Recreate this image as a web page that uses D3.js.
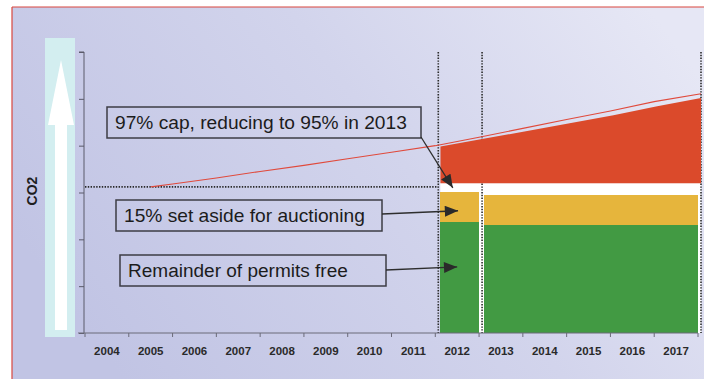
<!DOCTYPE html>
<html><head><meta charset="utf-8">
<script src="https://cdn.jsdelivr.net/npm/d3@7"></script>
<style>html,body{margin:0;padding:0;background:#fff;}svg{display:block;font-family:"Liberation Sans",Arial,sans-serif;}</style>
</head><body>
<script>
// ---- data ----
const years = [2004,2005,2006,2007,2008,2009,2010,2011,2012,2013,2014,2015,2016,2017];
const yTicks = [0,1,2,3,4,5,6];
const baselineValue = 3.12;               // dotted historical level
const baselineFrom = 2004, baselineTo = 2012;
// business-as-usual emissions (thin red line)
const trendYears  = [2005.5,2006,2007,2008,2009,2010,2011,2012,2013,2014,2015,2016,2017,2018.07];
const trendValues = [3.12,3.18,3.31,3.45,3.58,3.72,3.86,4.0,4.18,4.37,4.56,4.74,4.94,5.11];
// 97% -> 95% cap band (red area)
const capYears  = [2012.05,2013,2014,2015,2016,2017,2018];
const capTop    = [3.98,4.14,4.31,4.48,4.65,4.84,5.02];
const capFloor  = 3.2;
// per-year allocation
const allocYears   = [2012,2013,2014,2015,2016,2017];
const auctionTop   = [3.01,2.95,2.95,2.95,2.95,2.95];
const freeTop      = [2.37,2.31,2.31,2.31,2.31,2.31];
const periodStarts = [2012,2013];
const periodLines  = [2012,2013,2018];
const labels = ["97% cap, reducing to 95% in 2013","15% set aside for auctioning","Remainder of permits free"];
const arrowTips = [[2012.4,3.10],[2012.52,2.61],[2012.5,1.41]];

const W=704,H=379;
const svg=d3.select("body").append("svg").attr("width",W).attr("height",H);
const defs=svg.append("defs");
const g1=defs.append("linearGradient").attr("id","bg").attr("x1","0").attr("y1","0.6").attr("x2","1").attr("y2","0.2");
g1.append("stop").attr("offset","0").attr("stop-color","#c1c4e4");
g1.append("stop").attr("offset","0.55").attr("stop-color","#d2d4ec");
g1.append("stop").attr("offset","1").attr("stop-color","#e6e7f5");
defs.append("marker").attr("id","ah").attr("viewBox","0 0 12 10").attr("refX",12).attr("refY",5)
  .attr("markerWidth",14).attr("markerHeight",11).attr("markerUnits","userSpaceOnUse").attr("orient","auto")
  .append("path").attr("d","M0,0L12,5L0,10Z").attr("fill","#2a2a2a");

// frame
svg.append("rect").attr("x",12).attr("y",7).attr("width",W-12).attr("height",H-7).attr("fill","url(#bg)");
svg.append("line").attr("x1",12).attr("x2",W).attr("y1",7).attr("y2",7).attr("stroke","#d9473f").attr("stroke-width",1.2);
svg.append("line").attr("x1",12).attr("x2",12).attr("y1",7).attr("y2",H).attr("stroke","#d9473f").attr("stroke-width",1.2);

// scales
const x0=85,x1=698;
const xb=d3.scaleBand().domain(years).range([x0,x1]).padding(0);
const xl=d3.scaleLinear().domain([2004,2018]).range([x0,x1]);
const y=d3.scaleLinear().domain([0,6]).range([333,52]);
const bw=xb.bandwidth();

// left CO2 arrow decoration
svg.append("rect").attr("x",45).attr("y",38).attr("width",30).attr("height",299).attr("fill","#d3eef0");
svg.append("path").attr("d","M55,330L55,125L48,125L61,60L74,125L67,125L67,330Z").attr("fill","#ffffff");
svg.append("text").attr("transform","translate(37,191) rotate(-90)").attr("text-anchor","middle")
  .attr("font-size",14).attr("font-weight","bold").attr("fill","#1e1e1e").text("CO2");

// white band behind allocation
svg.append("rect").attr("x",xl(2012)+5).attr("y",y(capFloor)).attr("width",xl(2018)+3-(xl(2012)+5))
  .attr("height",y(0)-y(capFloor)).attr("fill","#ffffff");

// bars
const alloc=allocYears.map((yr,i)=>({yr,auc:auctionTop[i],free:freeTop[i]}));
const bx=d=>xb(d.yr)+(periodStarts.includes(d.yr)?5:0);
const bwid=d=>bw-(periodStarts.includes(d.yr)?5:0)+(d.yr===2017||d.yr===2012?0:1);
svg.selectAll(".auc").data(alloc).join("rect").attr("x",bx).attr("width",bwid)
  .attr("y",d=>y(d.auc)).attr("height",d=>y(d.free)-y(d.auc)).attr("fill","#e6b53c")
  .attr("shape-rendering","crispEdges");
svg.selectAll(".free").data(alloc).join("rect").attr("x",bx).attr("width",bwid)
  .attr("y",d=>y(d.free)).attr("height",d=>y(0)-y(d.free)).attr("fill","#429a43")
  .attr("shape-rendering","crispEdges");

// dotted lines
svg.selectAll(".vl").data(periodLines).join("line")
  .attr("x1",d=>xl(d)+3).attr("x2",d=>xl(d)+3).attr("y1",y(6)).attr("y2",y(0))
  .attr("stroke","#2a2a2a").attr("stroke-width",1.6).attr("stroke-dasharray","1.4,1.4");
svg.append("line").attr("x1",xl(baselineFrom)).attr("x2",xl(baselineTo)+3)
  .attr("y1",y(baselineValue)).attr("y2",y(baselineValue))
  .attr("stroke","#2a2a2a").attr("stroke-width",1.6).attr("stroke-dasharray","1.4,1.4");

// cap area
const capData=capYears.map((yr,i)=>({yr,v:capTop[i]}));
svg.append("path").datum(capData)
  .attr("d",d3.area().x(d=>xl(d.yr)+3).y0(y(capFloor)).y1(d=>y(d.v)))
  .attr("fill","#db4a2b");
// trend line
const trend=trendYears.map((yr,i)=>({yr,v:trendValues[i]}));
svg.append("path").datum(trend)
  .attr("d",d3.line().x(d=>xl(d.yr)).y(d=>y(d.v)))
  .attr("fill","none").attr("stroke","#e04a3c").attr("stroke-width",1.1);

// axes
const ya=svg.append("g").attr("transform",`translate(${x0-1},0)`)
  .call(d3.axisLeft(y).tickValues(yTicks).tickSize(5).tickFormat(""));
ya.select(".domain").attr("stroke","#5a5a6a").attr("d",`M-5,${y(6)}H0V${y(0)}`);
ya.selectAll(".tick line").attr("stroke","#5a5a6a");
const xa=svg.append("g").attr("transform",`translate(0,${y(0)})`)
  .call(d3.axisBottom(xb).tickSize(0).tickPadding(14));
xa.select(".domain").attr("stroke","#6a6a78").attr("d",`M78,0H${x1}`);
xa.selectAll(".tick text").attr("font-size",11.5).attr("font-weight","bold").attr("fill","#2a2a2a")
  .attr("font-family","'Liberation Sans',Arial,sans-serif");
svg.append("g").selectAll("line").data(years.concat([2018])).join("line")
  .attr("x1",d=>xl(d)).attr("x2",d=>xl(d)).attr("y1",y(0)).attr("y2",y(0)+4)
  .attr("stroke","#6a6a78");

// annotations
const boxes=[
  {x:107,y:107,w:314,h:31,tx:115,tw:292,ax:[421,137]},
  {x:116,y:200,w:266,h:31,tx:124,tw:241,ax:[382,214]},
  {x:120,y:255,w:266,h:31,tx:128,tw:220,ax:[386,270]}
];
boxes.forEach((b,i)=>{
  svg.append("rect").attr("x",b.x).attr("y",b.y).attr("width",b.w).attr("height",b.h)
    .attr("fill","none").attr("stroke","#3c3c44").attr("stroke-width",1.5);
  const t=svg.append("text").attr("x",b.tx).attr("y",b.y+b.h/2+6).attr("font-size",17)
    .attr("fill","#1c1c1c").text(labels[i]);
  const len=t.node().getComputedTextLength();
  t.attr("font-size",17*b.tw/len);
  svg.append("line").attr("x1",b.ax[0]).attr("y1",b.ax[1])
    .attr("x2",xl(arrowTips[i][0])).attr("y2",y(arrowTips[i][1]))
    .attr("stroke","#2e2e2e").attr("stroke-width",1.3).attr("marker-end","url(#ah)");
});
</script>
</body></html>
